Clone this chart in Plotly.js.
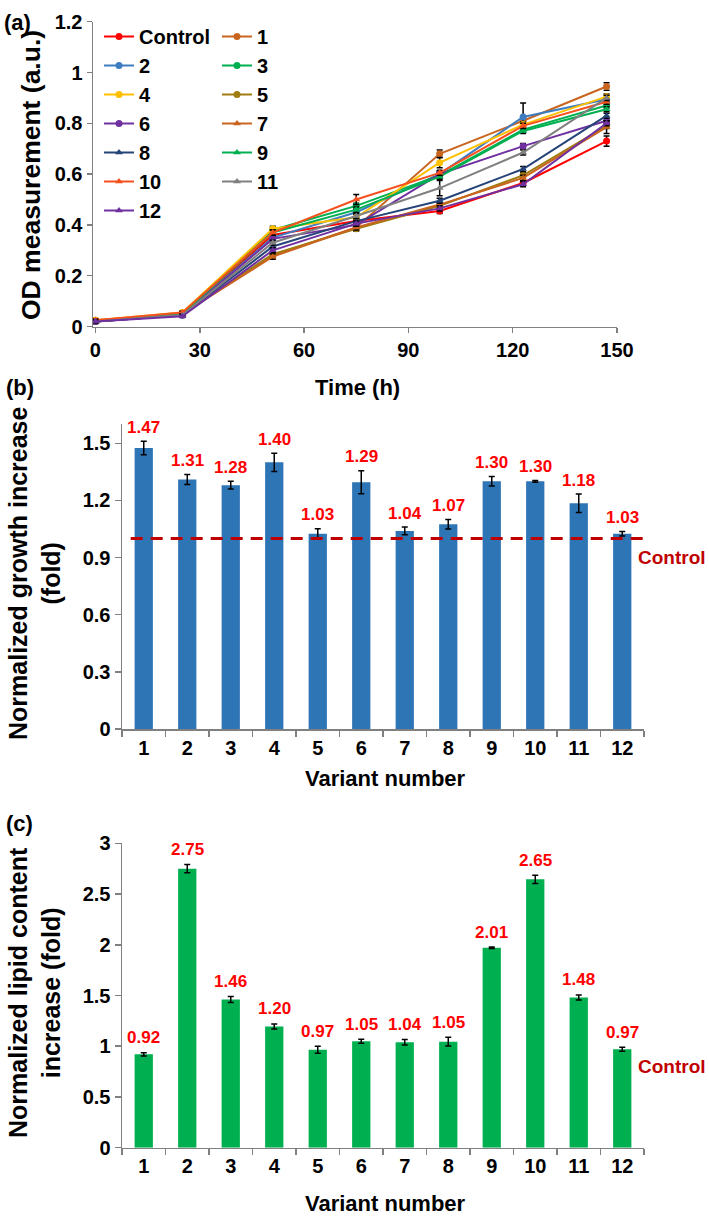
<!DOCTYPE html>
<html>
<head>
<meta charset="utf-8">
<script src="https://cdn.plot.ly/plotly-3.0.1.min.js"></script>
<style>html,body{margin:0;padding:0;background:#fff;}#chart{width:709px;height:1231px;}</style>
</head>
<body>
<div id="chart"></div>
<script>
// ---------- Panel (a): OD growth curves ----------
const times = [0, 25, 51, 75, 99, 123, 147];
const timeTicks = [0, 30, 60, 90, 120, 150];
const seriesNames = ['Control', '1', '2', '3', '4', '5', '6', '7', '8', '9', '10', '11', '12'];
const odControl = [0.025, 0.05, 0.36, 0.415, 0.455, 0.565, 0.73];
const od1  = [0.02, 0.05, 0.28, 0.39, 0.68, 0.81, 0.945];
const od2  = [0.02, 0.045, 0.35, 0.45, 0.60, 0.825, 0.895];
const od3  = [0.02, 0.05, 0.38, 0.475, 0.595, 0.775, 0.87];
const od4  = [0.025, 0.055, 0.385, 0.43, 0.645, 0.795, 0.905];
const od5  = [0.02, 0.05, 0.285, 0.385, 0.475, 0.595, 0.79];
const od6  = [0.02, 0.045, 0.345, 0.40, 0.60, 0.71, 0.81];
const od7  = [0.02, 0.05, 0.275, 0.39, 0.48, 0.585, 0.785];
const od8  = [0.02, 0.045, 0.315, 0.415, 0.495, 0.62, 0.83];
const od9  = [0.02, 0.05, 0.37, 0.46, 0.59, 0.77, 0.855];
const od10 = [0.025, 0.055, 0.37, 0.50, 0.605, 0.79, 0.885];
const od11 = [0.02, 0.045, 0.33, 0.435, 0.545, 0.685, 0.90];
const od12 = [0.02, 0.04, 0.30, 0.405, 0.465, 0.56, 0.80];
const odSeries = [odControl, od1, od2, od3, od4, od5, od6, od7, od8, od9, od10, od11, od12];
const odErrControl = [0.005, 0.005, 0.01, 0.01, 0.01, 0.01, 0.02];
const odErr1  = [0.005, 0.005, 0.01, 0.01, 0.015, 0.01, 0.015];
const odErr2  = [0.005, 0.005, 0.01, 0.01, 0.01, 0.055, 0.01];
const odErr3  = [0.005, 0.005, 0.01, 0.01, 0.01, 0.01, 0.01];
const odErr4  = [0.005, 0.005, 0.01, 0.01, 0.02, 0.01, 0.01];
const odErr5  = [0.005, 0.005, 0.01, 0.01, 0.01, 0.01, 0.01];
const odErr6  = [0.005, 0.005, 0.01, 0.01, 0.01, 0.01, 0.01];
const odErr7  = [0.005, 0.005, 0.01, 0.01, 0.01, 0.01, 0.025];
const odErr8  = [0.005, 0.005, 0.01, 0.01, 0.01, 0.01, 0.01];
const odErr9  = [0.005, 0.005, 0.01, 0.01, 0.01, 0.01, 0.01];
const odErr10 = [0.005, 0.005, 0.01, 0.02, 0.01, 0.01, 0.01];
const odErr11 = [0.005, 0.005, 0.01, 0.01, 0.03, 0.01, 0.01];
const odErr12 = [0.005, 0.005, 0.01, 0.01, 0.01, 0.01, 0.01];
const odErrors = [odErrControl, odErr1, odErr2, odErr3, odErr4, odErr5, odErr6, odErr7, odErr8, odErr9, odErr10, odErr11, odErr12];

// ---------- Panel (b): growth increase ----------
const variants = ['1', '2', '3', '4', '5', '6', '7', '8', '9', '10', '11', '12'];
const growth = [1.475, 1.31, 1.28, 1.40, 1.025, 1.295, 1.04, 1.075, 1.30, 1.30, 1.185, 1.025];
const growthErr = [0.035, 0.026, 0.02, 0.048, 0.026, 0.06, 0.02, 0.025, 0.025, 0.005, 0.048, 0.012];
const growthLabels = ['1.47', '1.31', '1.28', '1.40', '1.03', '1.29', '1.04', '1.07', '1.30', '1.30', '1.18', '1.03'];
const controlLevel = 1.0;

// ---------- Panel (c): lipid content increase ----------
const lipid = [0.92, 2.75, 1.46, 1.195, 0.965, 1.05, 1.04, 1.045, 1.97, 2.645, 1.48, 0.97];
const lipidErr = [0.017, 0.04, 0.03, 0.025, 0.035, 0.02, 0.027, 0.043, 0.007, 0.04, 0.025, 0.02];
const lipidLabels = ['0.92', '2.75', '1.46', '1.20', '0.97', '1.05', '1.04', '1.05', '2.01', '2.65', '1.48', '0.97'];

// ---------- styling ----------
const FF = 'Liberation Sans, Arial, sans-serif';
const colors = ['#FF0000', '#C9651F', '#3E7CC0', '#00B050', '#FFC000', '#A07D10', '#7030A0',
                '#C9651F', '#264478', '#00B050', '#F5501E', '#808080', '#7030A0'];
const symbols = ['circle', 'circle', 'circle', 'circle', 'circle', 'circle', 'circle',
                 'triangle-up', 'triangle-up', 'triangle-up', 'triangle-up', 'triangle-up', 'triangle-up'];
const legendCol = ['legend', 'legend2', 'legend', 'legend2', 'legend', 'legend2', 'legend',
                   'legend2', 'legend', 'legend2', 'legend', 'legend2', 'legend'];

const traces = [];
seriesNames.forEach((name, i) => {
  traces.push({
    type: 'scatter', mode: 'lines+markers', name: name,
    x: times, y: odSeries[i], xaxis: 'x', yaxis: 'y',
    legend: legendCol[i],
    line: {color: colors[i], width: 2},
    marker: {color: colors[i], size: 7, symbol: symbols[i]},
    error_y: {type: 'data', array: odErrors[i], visible: true, color: '#000', thickness: 1.5, width: 3}
  });
});
traces.push({
  type: 'bar', x: variants, y: growth, xaxis: 'x2', yaxis: 'y2', showlegend: false,
  marker: {color: '#2E75B6'},
  error_y: {type: 'data', array: growthErr, visible: true, color: '#000', thickness: 1.5, width: 3}
});
traces.push({
  type: 'bar', x: variants, y: lipid, xaxis: 'x3', yaxis: 'y3', showlegend: false,
  marker: {color: '#00B050'},
  error_y: {type: 'data', array: lipidErr, visible: true, color: '#000', thickness: 1.5, width: 3}
});

const W = 709, H = 1231;
const px = v => v / W;
const py = v => 1 - v / H;

const axisCommon = {
  showline: true, linecolor: '#808080', linewidth: 1.5,
  showgrid: false, zeroline: false, ticks: 'outside', ticklen: 6, tickwidth: 1.5, tickcolor: '#808080',
  tickfont: {family: FF, size: 20, color: '#000', weight: 'bold'}
};

const annotations = [];
function addText(x, y, text, size, color, extra) {
  annotations.push(Object.assign({
    xref: 'paper', yref: 'paper', x: px(x), y: py(y), text: text, showarrow: false,
    xanchor: 'center', yanchor: 'middle',
    font: {family: FF, size: size, color: color, weight: 'bold'}
  }, extra || {}));
}
// panel letters
addText(17, 22, '(a)', 22, '#000');
addText(20, 387, '(b)', 22, '#000');
addText(19, 823, '(c)', 22, '#000');
// axis titles
addText(31, 175, 'OD measurement (a.u.)', 26.5, '#000', {textangle: -90});
addText(357, 387, 'Time (h)', 22, '#000');
addText(34, 573, 'Normalized growth increase<br>(fold)', 25, '#000', {textangle: -90});
addText(385, 778, 'Variant number', 22, '#000');
addText(34, 993, 'Normalized lipid content<br>increase (fold)', 25, '#000', {textangle: -90});
addText(385, 1203, 'Variant number', 22, '#000');
// control labels
addText(672, 557, 'Control', 19, '#C00000');
addText(672, 1066, 'Control', 19, '#C00000');
// value labels (category axis: position by index)
variants.forEach((v, i) => {
  annotations.push({xref: 'x2', yref: 'y2', x: i, y: growth[i] + growthErr[i], yshift: 14,
    text: growthLabels[i], showarrow: false, xanchor: 'center', yanchor: 'middle',
    font: {family: FF, size: 17, color: '#FF0000', weight: 'bold'}});
  annotations.push({xref: 'x3', yref: 'y3', x: i, y: lipid[i] + lipidErr[i], yshift: 15,
    text: lipidLabels[i], showarrow: false, xanchor: 'center', yanchor: 'middle',
    font: {family: FF, size: 17, color: '#FF0000', weight: 'bold'}});
});

const legendCommon = {
  orientation: 'v', yanchor: 'top', xanchor: 'left', bgcolor: 'rgba(0,0,0,0)',
  font: {family: FF, size: 20, color: '#000', weight: 'bold'},
  tracegroupgap: 0, itemwidth: 30
};

const layout = {
  width: W, height: H,
  margin: {l: 0, r: 0, t: 0, b: 0},
  paper_bgcolor: '#fff', plot_bgcolor: '#fff',
  bargap: 0.58,
  showlegend: true,
  legend: Object.assign({x: px(99), y: py(17)}, legendCommon),
  legend2: Object.assign({x: px(217), y: py(17)}, legendCommon),
  xaxis: Object.assign({}, axisCommon, {domain: [px(93), px(617)], range: [-0.7, 150],
    tickvals: timeTicks, anchor: 'y', ticklen: 5}),
  yaxis: Object.assign({}, axisCommon, {domain: [py(326.5), py(21.7)], range: [0, 1.2],
    dtick: 0.2, anchor: 'x', ticklen: 5}),
  xaxis2: Object.assign({}, axisCommon, {domain: [px(122), px(644)], type: 'category',
    range: [-0.5, 11.5], tickson: 'boundaries', anchor: 'y2'}),
  yaxis2: Object.assign({}, axisCommon, {domain: [py(729), py(424.2)], range: [0, 1.6],
    tickvals: [0, 0.3, 0.6, 0.9, 1.2, 1.5], anchor: 'x2'}),
  xaxis3: Object.assign({}, axisCommon, {domain: [px(122), px(644)], type: 'category',
    range: [-0.5, 11.5], tickson: 'boundaries', anchor: 'y3'}),
  yaxis3: Object.assign({}, axisCommon, {domain: [py(1147.7), py(843.3)], range: [0, 3],
    dtick: 0.5, anchor: 'x3'}),
  shapes: [{type: 'line', xref: 'x2', yref: 'y2', x0: -0.3, x1: 11.95, y0: controlLevel, y1: controlLevel,
    line: {color: '#C00000', width: 3, dash: '12px,8px'}}],
  annotations: annotations
};

Plotly.newPlot('chart', traces, layout, {staticPlot: true, displayModeBar: false});
</script>
</body>
</html>
